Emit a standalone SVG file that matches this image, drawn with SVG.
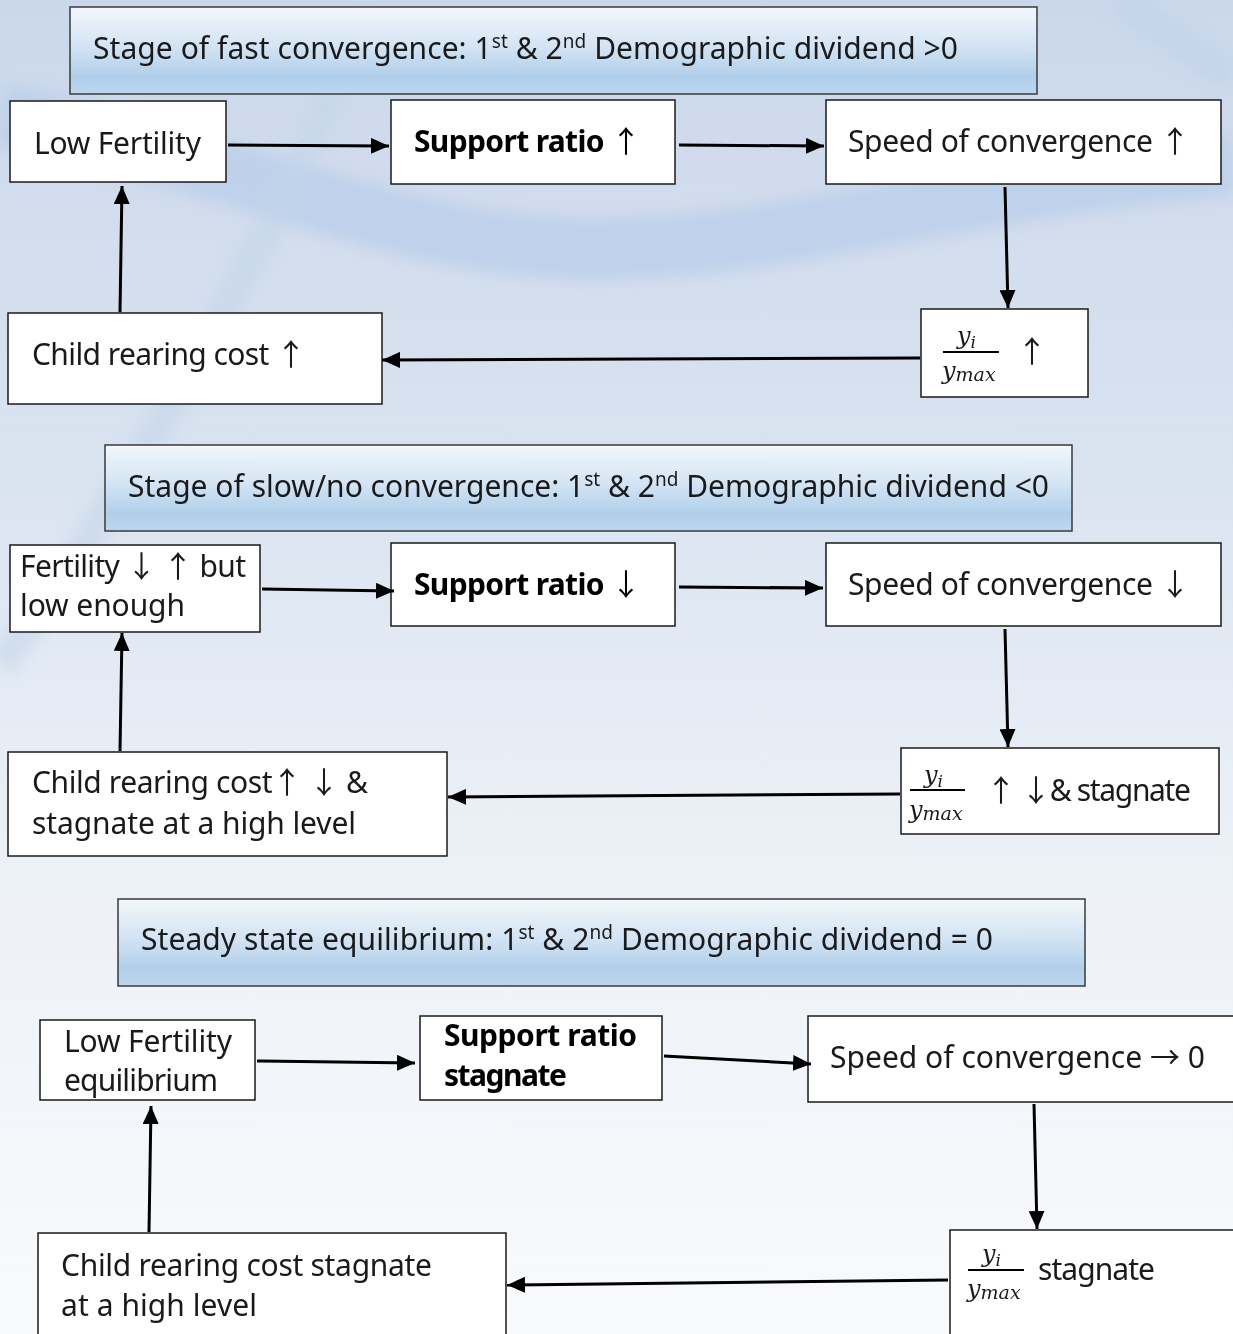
<svg xmlns="http://www.w3.org/2000/svg" width="1233" height="1334" viewBox="0 0 1233 1334">
<defs>
<linearGradient id="bg" x1="0" y1="0" x2="0" y2="1">
<stop offset="0" stop-color="#cbd8eb"/>
<stop offset="0.35" stop-color="#d9e3f0"/>
<stop offset="0.6" stop-color="#eaeff6"/>
<stop offset="1" stop-color="#f9fafc"/>
</linearGradient>
<linearGradient id="hdr" x1="0" y1="0" x2="0" y2="1">
<stop offset="0" stop-color="#f3f7fc"/>
<stop offset="0.45" stop-color="#d3e4f4"/>
<stop offset="0.8" stop-color="#b1cfea"/>
<stop offset="1" stop-color="#bcd6ee"/>
</linearGradient>
<filter id="soft" x="-10%" y="-10%" width="120%" height="120%"><feGaussianBlur stdDeviation="7"/></filter>
<marker id="ah" viewBox="0 0 18 16" refX="18" refY="8" markerWidth="18" markerHeight="16" markerUnits="userSpaceOnUse" orient="auto">
<path d="M0,0 L18,8 L0,16 z" fill="#000"/>
</marker>
<style>
.hdr{fill:url(#hdr);stroke:#3a3a3a;stroke-width:1.5}
.box{fill:#fff;stroke:#1a1a1a;stroke-width:1.5}
.t{font-family:"Noto Sans","Open Sans","Liberation Sans",sans-serif;font-size:30px;fill:#1a1a1a}
.b{font-weight:bold;fill:#000}
.ar{font-family:"Noto Sans CJK KR","Noto Sans CJK JP",sans-serif;font-weight:normal}
.m{font-family:"DejaVu Serif","Liberation Serif",serif;font-style:italic;fill:#1a1a1a}
.sup{font-size:19px}
.c{fill:none;stroke:#000;stroke-width:3;marker-end:url(#ah)}
.fl{stroke:#000;stroke-width:2}
</style>
</defs>
<rect x="0" y="0" width="1233" height="1334" fill="url(#bg)"/>
<g id="background" fill="none" filter="url(#soft)">
<path d="M0,115 C200,150 380,240 560,248 C760,258 960,185 1233,165" stroke="#b8cee9" stroke-width="62" opacity="0.75"/>
<path d="M372,0 C300,180 160,450 0,665" stroke="#c3d5ea" stroke-width="30" opacity="0.55"/>
<path d="M1120,0 C1160,30 1200,55 1233,78" stroke="#bdd1ea" stroke-width="34" opacity="0.55"/>
</g>

<g id="header1">
<rect class="hdr" x="70" y="7" width="967" height="87"/>
<text class="t" x="93" y="59" textLength="865">Stage of fast convergence: 1<tspan class="sup" dy="-11">st</tspan><tspan dy="11"> &amp; 2</tspan><tspan class="sup" dy="-11">nd</tspan><tspan dy="11"> Demographic dividend &gt;0</tspan></text>
</g>
<g id="n1_lowfert">
<rect class="box" x="10" y="101" width="216" height="81"/>
<text class="t" x="34" y="154" textLength="167">Low Fertility</text>
</g>
<g id="n1_support">
<rect class="box" x="391" y="100" width="284" height="84"/>
<text class="t b" x="414" y="152" textLength="227">Support ratio <tspan class="ar">↑</tspan></text>
</g>
<g id="n1_speed">
<rect class="box" x="826" y="100" width="395" height="84"/>
<text class="t" x="848" y="152" textLength="342">Speed of convergence <tspan class="ar">↑</tspan></text>
</g>
<g id="n1_ratio">
<rect class="box" x="921" y="309" width="167" height="88"/>
<text class="m" x="957" y="344" font-size="24">y<tspan font-size="17" dy="4">i</tspan></text>
<line class="fl" x1="943" y1="352" x2="999" y2="352"/>
<text class="m" x="942" y="379" font-size="24">y<tspan font-size="19" dy="2">max</tspan></text>
<text class="t ar" x="1017" y="362">↑</text>
</g>
<g id="n1_child">
<rect class="box" x="8" y="313" width="374" height="91"/>
<text class="t" x="32" y="365" textLength="274">Child rearing cost <tspan class="ar">↑</tspan></text>
</g>

<g id="header2">
<rect class="hdr" x="105" y="445" width="967" height="86"/>
<text class="t" x="128" y="497" textLength="921">Stage of slow/no convergence: 1<tspan class="sup" dy="-11">st</tspan><tspan dy="11"> &amp; 2</tspan><tspan class="sup" dy="-11">nd</tspan><tspan dy="11"> Demographic dividend &lt;0</tspan></text>
</g>
<g id="n2_fert">
<rect class="box" x="10" y="545" width="250" height="87"/>
<text class="t" x="20" y="577" textLength="226">Fertility <tspan class="ar">↓</tspan> <tspan class="ar">↑</tspan> but</text>
<text class="t" x="20" y="616" textLength="165">low enough</text>
</g>
<g id="n2_support">
<rect class="box" x="391" y="543" width="284" height="83"/>
<text class="t b" x="414" y="595" textLength="227">Support ratio <tspan class="ar">↓</tspan></text>
</g>
<g id="n2_speed">
<rect class="box" x="826" y="543" width="395" height="83"/>
<text class="t" x="848" y="595" textLength="342">Speed of convergence <tspan class="ar">↓</tspan></text>
</g>
<g id="n2_ratio">
<rect class="box" x="901" y="748" width="318" height="86"/>
<text class="m" x="924" y="783" font-size="24">y<tspan font-size="17" dy="4">i</tspan></text>
<line class="fl" x1="910" y1="790" x2="965" y2="790"/>
<text class="m" x="909" y="818" font-size="24">y<tspan font-size="19" dy="2">max</tspan></text>
<text class="t" x="986" y="801" textLength="205"><tspan class="ar">↑</tspan> <tspan class="ar">↓</tspan>&amp; stagnate</text>
</g>
<g id="n2_child">
<rect class="box" x="8" y="752" width="439" height="104"/>
<text class="t" x="32" y="793" textLength="336">Child rearing cost<tspan class="ar">↑</tspan> <tspan class="ar">↓</tspan> &amp;</text>
<text class="t" x="32" y="834" textLength="324">stagnate at a high level</text>
</g>

<g id="header3">
<rect class="hdr" x="118" y="899" width="967" height="87"/>
<text class="t" x="141" y="950" textLength="852">Steady state equilibrium: 1<tspan class="sup" dy="-11">st</tspan><tspan dy="11"> &amp; 2</tspan><tspan class="sup" dy="-11">nd</tspan><tspan dy="11"> Demographic dividend = 0</tspan></text>
</g>
<g id="n3_lowfert">
<rect class="box" x="40" y="1020" width="215" height="80"/>
<text class="t" x="64" y="1052" textLength="168">Low Fertility</text>
<text class="t" x="64" y="1091" textLength="154">equilibrium</text>
</g>
<g id="n3_support">
<rect class="box" x="420" y="1016" width="242" height="84"/>
<text class="t b" x="444" y="1046" textLength="193">Support ratio</text>
<text class="t b" x="444" y="1086" textLength="123">stagnate</text>
</g>
<g id="n3_speed">
<rect class="box" x="808" y="1016" width="440" height="86"/>
<text class="t" x="830" y="1068" textLength="375">Speed of convergence <tspan class="ar">→</tspan> 0</text>
</g>
<g id="n3_ratio">
<rect class="box" x="950" y="1230" width="300" height="120"/>
<text class="m" x="982" y="1262" font-size="24">y<tspan font-size="17" dy="4">i</tspan></text>
<line class="fl" x1="968" y1="1270" x2="1024" y2="1270"/>
<text class="m" x="967" y="1297" font-size="24">y<tspan font-size="19" dy="2">max</tspan></text>
<text class="t" x="1038" y="1280" textLength="117">stagnate</text>
</g>
<g id="n3_child">
<rect class="box" x="38" y="1233" width="468" height="120"/>
<text class="t" x="61" y="1276" textLength="371">Child rearing cost stagnate</text>
<text class="t" x="61" y="1316" textLength="196">at a high level</text>
</g>

<g id="connectors">
<path class="c" d="M228,145 L389,146"/>
<path class="c" d="M679,145 L824,146"/>
<path class="c" d="M1005,187 L1008,308"/>
<path class="c" d="M920,358 L382,360"/>
<path class="c" d="M120,312 L122,186"/>
<path class="c" d="M262,589 L394,591"/>
<path class="c" d="M679,587 L823,588"/>
<path class="c" d="M1005,629 L1008,747"/>
<path class="c" d="M900,794 L448,797"/>
<path class="c" d="M120,751 L122,633"/>
<path class="c" d="M257,1061 L415,1063"/>
<path class="c" d="M664,1056 L811,1064"/>
<path class="c" d="M1034,1104 L1037,1229"/>
<path class="c" d="M948,1280 L507,1285"/>
<path class="c" d="M149,1232 L151,1106"/>
</g>
</svg>
